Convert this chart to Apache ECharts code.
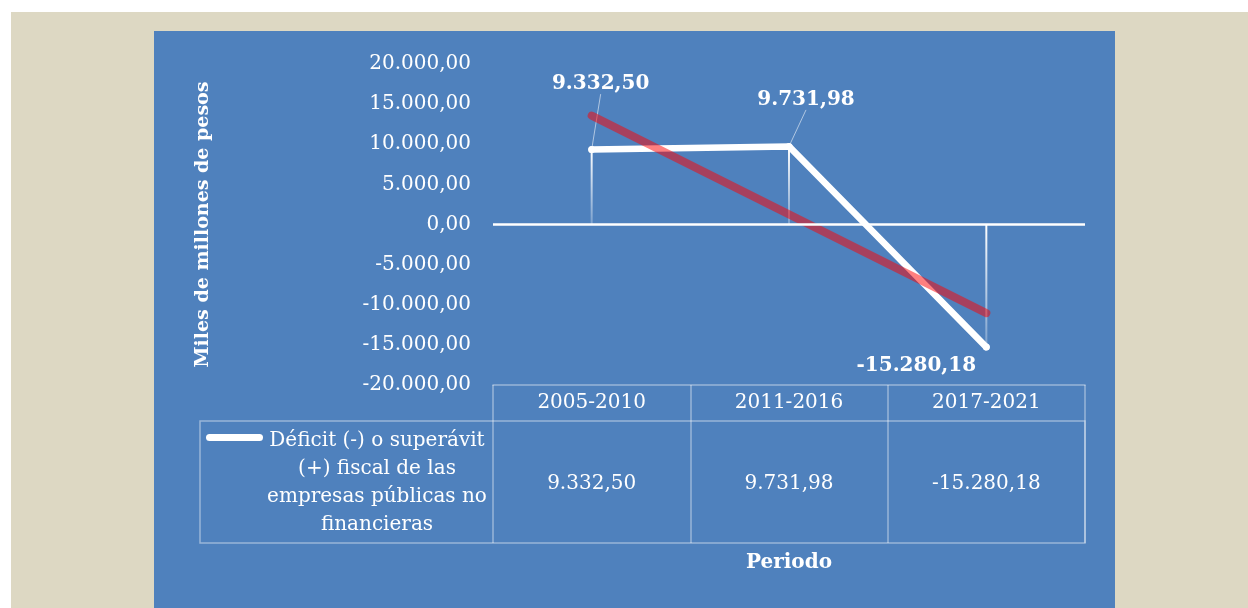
<!DOCTYPE html>
<html>
<head>
<meta charset="utf-8">
<script src="https://cdn.jsdelivr.net/npm/echarts@6/dist/echarts.min.js"></script>
<style>
  html, body { margin: 0; padding: 0; background: #ffffff; width: 1248px; height: 608px; overflow: hidden; }
  #fondo { position: absolute; left: 11px; top: 12px; right: 0; bottom: 0; background: #ddd8c3; }
  #chart { position: absolute; left: 154px; top: 31px; width: 961px; height: 577px; }
</style>
</head>
<body>
<div id="fondo"></div>
<div id="chart"></div>
<script>
// datos
var categorias = ['2005-2010', '2011-2016', '2017-2021']
var deficit = [9332.50, 9731.98, -15280.18]
var tendencia = [13570, 1260, -11040] // linea de tendencia
var serieNombre = 'Déficit (-) o superávit (+) fiscal de las empresas públicas no financieras'
var serieNombreLineas = 'Déficit (-) o superávit\n(+) fiscal de las\nempresas públicas no\nfinancieras'
var yMin = -20000, yMax = 20000, yPaso = 5000

var fuente = '"DejaVu Serif", "Liberation Serif", serif'
var bordeTabla = 'rgba(255,255,255,0.42)'

function fmt(v) {
  var s = Math.abs(v).toFixed(2).split('.')
  var ent = s[0].replace(/\B(?=(\d{3})+(?!\d))/g, '.')
  return (v < 0 ? '-' : '') + ent + ',' + s[1]
}

// posicion de las etiquetas (desplazamiento respecto a la posicion por defecto)
var etiquetaPos = [
  { position: 'top', dx: 9, dy: -47, guia: true },
  { position: 'top', dx: 17, dy: -28, guia: true },
  { position: 'bottom', dx: -70, dy: 0, guia: false }
]

var chart = echarts.init(document.getElementById('chart'))
var option = {
  animation: false,
  backgroundColor: '#4f81bd',
  textStyle: { fontFamily: fuente },
  grid: [
    { left: 339, right: 30, top: 33, height: 321 },
    { left: 46, right: 30, top: 390, height: 122, show: true,
      borderColor: bordeTabla, borderWidth: 1.5, backgroundColor: 'transparent' }
  ],
  legend: {
    data: [serieNombre],
    left: 47, top: 398,
    itemWidth: 57, itemHeight: 7,
    icon: 'path://M3.5,0 L53.5,0 A3.5,3.5 0 0 1 53.5,7 L3.5,7 A3.5,3.5 0 0 1 3.5,0 Z',
    formatter: function () { return '' },
    selectedMode: false,
    itemStyle: { color: '#ffffff' }
  },
  graphic: [{
    type: 'text',
    x: 223, y: 396,
    style: {
      text: serieNombreLineas,
      fill: '#ffffff',
      font: '20px ' + fuente,
      align: 'center',
      verticalAlign: 'top',
      lineHeight: 28
    },
    silent: true
  }],
  xAxis: [
    {
      type: 'category', gridIndex: 0, data: categorias, position: 'bottom',
      name: 'Periodo', nameLocation: 'middle', nameGap: 168,
      nameTextStyle: { color: '#ffffff', fontSize: 20, fontWeight: 'bold', fontFamily: fuente },
      axisLine: { onZero: false, lineStyle: { color: bordeTabla, width: 1.5 } },
      axisTick: { show: true, length: 158, lineStyle: { color: bordeTabla, width: 1.5 } },
      axisLabel: { color: '#ffffff', fontSize: 20, margin: 8, fontFamily: fuente },
      splitLine: { show: false }
    },
    {
      type: 'category', gridIndex: 0, data: deficit.map(fmt), position: 'bottom',
      axisLine: { show: false }, axisTick: { show: false },
      axisLabel: { color: '#ffffff', fontSize: 20, margin: 89, fontFamily: fuente },
      splitLine: { show: false }
    },
    { type: 'value', gridIndex: 1, show: false }
  ],
  yAxis: [
    {
      type: 'value', gridIndex: 0, min: yMin, max: yMax, interval: yPaso,
      name: 'Miles de millones de pesos', nameLocation: 'middle', nameGap: 280,
      nameTextStyle: { color: '#ffffff', fontSize: 19, fontWeight: 'bold', fontFamily: fuente },
      axisLine: { show: false }, axisTick: { show: false }, splitLine: { show: false },
      axisLabel: { color: '#ffffff', fontSize: 20, margin: 22, fontFamily: fuente, formatter: fmt }
    },
    { type: 'value', gridIndex: 1, show: false }
  ],
  series: [
    {
      // lineas de caida hasta el eje cero
      type: 'bar', xAxisIndex: 0, yAxisIndex: 0, barWidth: 2, silent: true,
      data: deficit,
      itemStyle: {
        color: new echarts.graphic.LinearGradient(0, 0, 0, 1, [
          { offset: 0, color: 'rgba(255,255,255,1)' },
          { offset: 1, color: 'rgba(255,255,255,0.25)' }
        ])
      },
      markLine: {
        silent: true, symbol: 'none',
        label: { show: false },
        lineStyle: { color: '#ffffff', width: 2.5, type: 'solid' },
        data: [{ yAxis: 0 }]
      },
      z: 1
    },
    {
      name: serieNombre, type: 'line', xAxisIndex: 0, yAxisIndex: 0,
      data: deficit.map(function (v, i) {
        return {
          value: v,
          label: { position: etiquetaPos[i].position },
          labelLine: { show: etiquetaPos[i].guia }
        }
      }),
      symbol: 'circle', symbolSize: 7,
      itemStyle: { color: '#ffffff' },
      lineStyle: { color: '#ffffff', width: 6.5, cap: 'round', join: 'round' },
      label: {
        show: true, color: '#ffffff', fontSize: 20, fontWeight: 'bold', fontFamily: fuente,
        formatter: function (p) { return fmt(p.value) }
      },
      labelLine: { show: true, lineStyle: { color: 'rgba(255,255,255,0.55)', width: 1 } },
      labelLayout: function (p) {
        return { dx: etiquetaPos[p.dataIndex].dx, dy: etiquetaPos[p.dataIndex].dy }
      },
      z: 3
    },
    {
      name: 'Tendencia', type: 'line', xAxisIndex: 0, yAxisIndex: 0,
      data: tendencia, symbol: 'none', silent: true,
      lineStyle: { color: 'rgba(255,0,0,0.5)', width: 8, cap: 'round' },
      z: 4
    }
  ]
}
chart.setOption(option)
</script>
</body>
</html>
